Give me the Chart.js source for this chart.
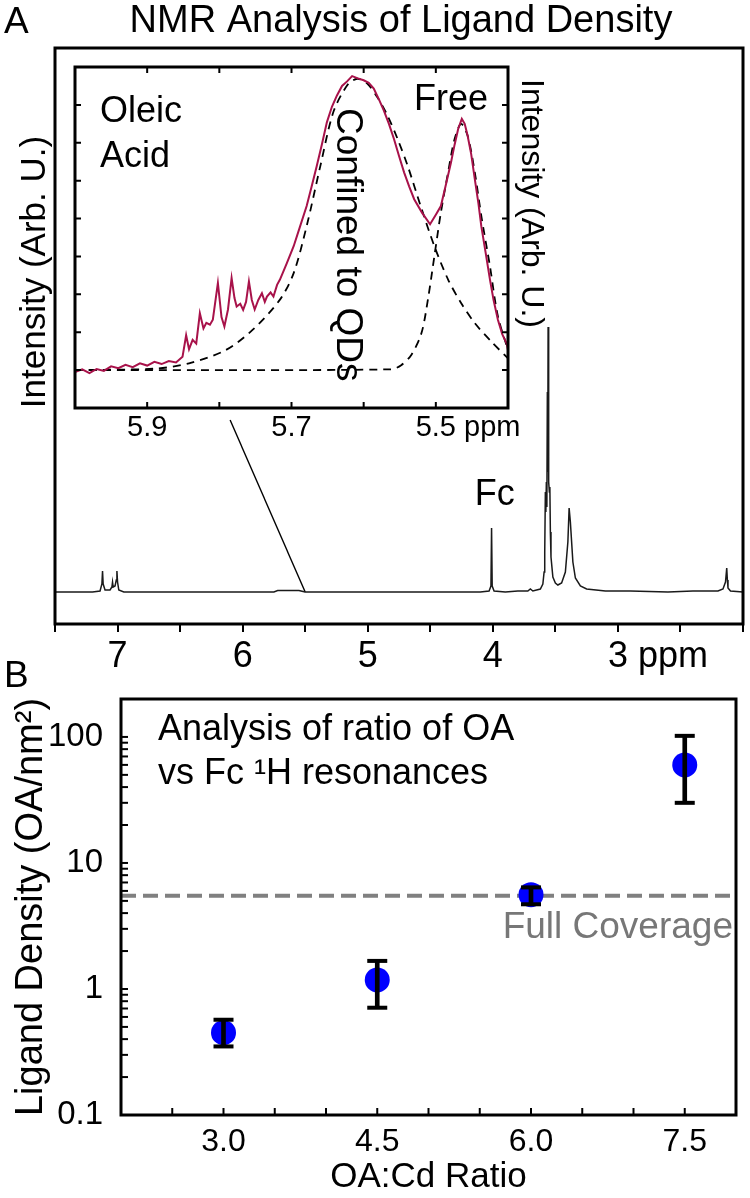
<!DOCTYPE html>
<html lang="en">
<head>
<meta charset="UTF-8">
<meta name="viewport" content="width=device-width, initial-scale=1.0">
<title>NMR Analysis of Ligand Density</title>
<style>
    body { margin: 0; background: #fff; }
    .page { position: relative; width: 750px; height: 1198px; overflow: hidden; }
    canvas { position: absolute; left: 0; }
    #mainChart { top: 0; }
    #densityChart { top: 640px; }
    #insetChart { top: 0; }
</style>
</head>
<body>
<div class="page">
    <canvas id="mainChart" width="750" height="690"></canvas>
    <canvas id="densityChart" width="750" height="558"></canvas>
    <canvas id="insetChart" width="560" height="450"></canvas>
</div>

<script src="https://cdn.jsdelivr.net/npm/chart.js"></script>
<script>
    // ---- Panel A: full 1H spectrum (ppm, intensity above baseline, arb. units)
    const specPpm = [7.50, 7.20, 7.14, 7.125, 7.12, 7.115, 7.10, 7.06, 7.045, 7.04, 7.035, 7.02, 7.01, 7.005, 7.00, 6.99, 6.95,
        5.75, 5.72, 5.55, 5.50, 4.10, 4.03, 4.015, 4.01, 4.005, 3.99, 3.90, 3.80, 3.72, 3.70, 3.68, 3.62, 3.60, 3.59,
        3.585, 3.58, 3.576, 3.572, 3.568, 3.564, 3.561, 3.558, 3.555, 3.552, 3.548, 3.544, 3.54, 3.535, 3.52, 3.50,
        3.48, 3.45, 3.42, 3.40, 3.39, 3.38, 3.36, 3.34, 3.30, 3.25, 3.10, 2.90, 2.60, 2.40, 2.20, 2.16, 2.14, 2.13,
        2.125, 2.12, 2.10, 2.00];
    const specInt = [0, 0, 1, 8, 21, 8, 2, 2, 5, 10, 5, 6, 12, 21, 10, 2, 0,
        0, 1.5, 1.5, 0, 0, 1, 6, 64, 6, 1, 0, 1, 1, 3, 1, 3, 8, 20,
        40, 100, 80, 110, 85, 200, 120, 265, 190, 110, 100, 105, 60, 35, 15, 9,
        7, 9, 20, 50, 84, 70, 30, 14, 6, 3, 1, 1, 0, 1, 1, 3, 10, 24,
        12, 4, 1, 0];
    // line joining the inset to the olefin region
    const zoomLinePpm = [6.10, 5.50];
    const zoomLineInt = [172, 0];

    // ---- Inset: olefinic region of oleic acid
    const redPpm = [6.000, 5.990, 5.980, 5.970, 5.960, 5.950, 5.940, 5.930, 5.920, 5.910, 5.900, 5.890, 5.880, 5.870,
        5.860, 5.851, 5.846, 5.842, 5.837, 5.832, 5.827, 5.822, 5.818, 5.813, 5.809, 5.802, 5.797, 5.793, 5.788,
        5.783, 5.779, 5.776, 5.771, 5.767, 5.763, 5.759, 5.755, 5.751, 5.746, 5.741, 5.737, 5.734, 5.729, 5.725,
        5.720, 5.716, 5.707, 5.697, 5.688, 5.679, 5.672, 5.665, 5.658, 5.651, 5.644, 5.637, 5.630, 5.623, 5.616,
        5.608, 5.600, 5.593, 5.586, 5.579, 5.572, 5.565, 5.558, 5.551, 5.544, 5.537, 5.530, 5.519, 5.508, 5.500,
        5.493, 5.486, 5.479, 5.474, 5.469, 5.464, 5.460, 5.456, 5.451, 5.446, 5.441, 5.437, 5.431, 5.425, 5.420,
        5.414, 5.408, 5.402, 5.400];
    const redInt = [-0.05, 0.02, -0.08, 0.03, -0.02, 0.10, 0.05, 0.14, 0.08, 0.18, 0.12, 0.22, 0.16, 0.24,
        0.20, 0.35, 0.92, 0.55, 0.80, 0.70, 1.50, 1.10, 1.25, 1.20, 1.33, 2.30, 1.40, 1.15, 1.60,
        2.43, 1.90, 1.68, 1.75, 1.59, 1.80, 2.34, 1.85, 1.60, 1.85, 2.03, 1.80, 1.94, 2.05, 1.94,
        2.25, 2.39, 2.80, 3.27, 3.80, 4.33, 4.85, 5.39, 5.95, 6.54, 6.95, 7.25, 7.50, 7.62, 7.76,
        7.70, 7.65, 7.58, 7.43, 7.15, 6.85, 6.50, 6.10, 5.65, 5.22, 4.85, 4.51, 4.15, 3.85, 4.10,
        4.33, 4.90, 5.48, 5.95, 6.37, 6.63, 6.50, 6.19, 5.70, 5.04, 4.40, 3.80, 3.10, 2.39, 1.85,
        1.33, 0.95, 0.71, 0.53];
    const confPpm = [6.000, 5.888, 5.842, 5.791, 5.754, 5.716, 5.697, 5.679, 5.660, 5.642, 5.623, 5.609,
        5.595, 5.581, 5.567, 5.553, 5.539, 5.521, 5.502, 5.483, 5.465, 5.446, 5.423, 5.400];
    const confInt = [0.00, 0.04, 0.18, 0.53, 1.06, 1.86, 2.56, 3.80, 5.39, 6.81, 7.51, 7.69,
        7.56, 7.20, 6.72, 6.10, 5.39, 4.33, 3.27, 2.39, 1.77, 1.24, 0.75, 0.31];
    const freePpm = [6.000, 5.562, 5.548, 5.534, 5.520, 5.511, 5.502, 5.493, 5.483, 5.474, 5.465, 5.456,
        5.446, 5.437, 5.425, 5.414, 5.400];
    const freeInt = [0.00, 0.02, 0.13, 0.40, 0.97, 1.86, 3.01, 4.16, 5.22, 6.10, 6.50, 6.19,
        5.22, 4.07, 2.74, 1.42, 0.53];

    // ---- Panel B: ligand density vs OA:Cd ratio
    const ratio = [3.0, 4.5, 6.0, 7.5];
    const density = [0.45, 1.18, 5.6, 60];
    const errLow = [0.35, 0.71, 4.7, 30];
    const errHigh = [0.57, 1.67, 6.4, 102];
    const fullCoverage = 5.5;
    const ratioLabels = [3.0, 4.5, 6.0, 7.5];

    const FONT = "'Liberation Sans', Arial, Helvetica, sans-serif";
    Chart.defaults.font.family = FONT;
    Chart.defaults.color = '#000';

    function pts(xs, ys) {
        return xs.map((x, i) => ({ x: x, y: ys[i] }));
    }

    // box round the plot area, with optional tick marks pointing inwards
    function makeFrame(cfg) {
        return {
            id: 'frame',
            beforeDatasetsDraw(chart) {
                if (!cfg.fill) return;
                const a = chart.chartArea, ctx = chart.ctx;
                ctx.save();
                ctx.fillStyle = cfg.fill;
                ctx.fillRect(a.left, a.top, a.right - a.left, a.bottom - a.top);
                ctx.restore();
            },
            afterDatasetsDraw(chart) {
                const a = chart.chartArea, ctx = chart.ctx;
                ctx.save();
                ctx.strokeStyle = '#000';
                ctx.lineWidth = 2;
                (cfg.ticks || []).forEach(t => {
                    const sc = chart.scales[t.axis];
                    sc.ticks.forEach(tk => {
                        if (t.keep && !t.keep(tk.value)) return;
                        const p = sc.getPixelForValue(tk.value);
                        ctx.beginPath();
                        t.sides.forEach(side => {
                            if (side === 'bottom') { ctx.moveTo(p, a.bottom); ctx.lineTo(p, a.bottom - t.len); }
                            if (side === 'top') { ctx.moveTo(p, a.top); ctx.lineTo(p, a.top + t.len); }
                            if (side === 'left') { ctx.moveTo(a.left, p); ctx.lineTo(a.left + t.len, p); }
                            if (side === 'right') { ctx.moveTo(a.right, p); ctx.lineTo(a.right - t.len, p); }
                        });
                        ctx.stroke();
                    });
                });
                ctx.lineWidth = cfg.width || 3;
                ctx.strokeRect(a.left, a.top, a.right - a.left, a.bottom - a.top);
                ctx.restore();
            }
        };
    }

    function makeText(draw) {
        return {
            id: 'labels',
            afterDraw(chart) {
                const ctx = chart.ctx;
                ctx.save();
                ctx.fillStyle = '#000';
                ctx.textBaseline = 'alphabetic';
                draw(ctx, chart);
                ctx.restore();
            }
        };
    }

    // " ppm" written after a tick label, the number itself stays centred on its tick
    function ppmSuffix(ctx, scale, value, label, size, tickLen, pad) {
        ctx.font = size + 'px ' + FONT;
        ctx.textAlign = 'left';
        ctx.textBaseline = 'middle';
        const x = scale.getPixelForValue(value) + ctx.measureText(label).width / 2;
        ctx.fillText(' ppm', x, scale.top + tickLen + pad + size * 0.6);
    }

    const baseOptions = {
        responsive: false,
        animation: false,
        events: [],
        plugins: { legend: { display: false }, tooltip: { enabled: false } }
    };

    // ---------- main spectrum
    new Chart(document.getElementById('mainChart'), {
        type: 'scatter',
        data: {
            datasets: [
                { data: pts(specPpm, specInt), showLine: true, borderColor: '#1a1a1a', borderWidth: 1.5, pointRadius: 0 },
                { data: pts(zoomLinePpm, zoomLineInt), showLine: true, borderColor: '#000', borderWidth: 1.4, pointRadius: 0 }
            ]
        },
        options: {
            ...baseOptions,
            layout: { padding: { left: 55, top: 48, right: 7, bottom: 0 } },
            scales: {
                x: {
                    type: 'linear', min: 2, max: 7.5, reverse: true,
                    border: { display: false },
                    grid: { drawOnChartArea: false, drawTicks: true, tickLength: 8, color: '#000', lineWidth: 2 },
                    ticks: {
                        stepSize: 0.5, autoSkip: false, maxRotation: 0, padding: 3, font: { size: 36 }, color: '#000',
                        callback: v => (Number.isInteger(v) && v >= 3 && v <= 7) ? String(v) : ''
                    },
                    afterFit: s => { s.height = 66; }
                },
                y: { display: false, min: -32, max: 544 }
            }
        },
        plugins: [
            makeFrame({ width: 3 }),
            makeText((ctx, chart) => {
                const sx = chart.scales.x, sy = chart.scales.y;
                ctx.font = '37px ' + FONT;
                ctx.textAlign = 'left';
                ctx.fillText('A', 4, 33);
                ctx.font = '38px ' + FONT;
                ctx.textAlign = 'center';
                ctx.fillText('NMR Analysis of Ligand Density', 401, 32);

                ctx.save();
                ctx.translate(45, 272);
                ctx.rotate(-Math.PI / 2);
                ctx.font = '35px ' + FONT;
                ctx.fillText('Intensity (Arb. U.)', 0, 0);
                ctx.restore();

                ctx.font = '36px ' + FONT;
                ctx.textAlign = 'center';
                ctx.fillText('Fc', sx.getPixelForValue(4.0) + 2, sy.getPixelForValue(87));

                ppmSuffix(ctx, sx, 3, '3', 36, 8, 3);
            })
        ]
    });

    // ---------- panel B
    new Chart(document.getElementById('densityChart'), {
        type: 'scatter',
        data: {
            datasets: [
                {
                    data: [{ x: 2, y: fullCoverage }, { x: 8, y: fullCoverage }], showLine: true,
                    borderColor: '#808080', borderWidth: 4, borderDash: [15, 7], pointRadius: 0, order: 4
                },
                {
                    data: pts(ratio, density), pointRadius: 12.5, pointBackgroundColor: '#0000ff',
                    backgroundColor: '#0000ff', pointBorderWidth: 0, borderWidth: 0, order: 3
                },
                {
                    type: 'bar', data: ratio.map((x, i) => ({ x: x, y: [errLow[i], errHigh[i]] })),
                    backgroundColor: '#000', barThickness: 4, order: 2
                },
                {
                    data: pts(ratio, errLow).concat(pts(ratio, errHigh)), pointStyle: 'line', pointRadius: 10,
                    borderColor: '#000', pointBorderColor: '#000', borderWidth: 4, pointBorderWidth: 4, order: 1
                }
            ]
        },
        options: {
            ...baseOptions,
            layout: { padding: { left: 0, top: 59, right: 7, bottom: 0 } },
            scales: {
                x: {
                    type: 'linear', min: 2, max: 8, offset: false,
                    border: { display: false },
                    grid: { display: false, drawTicks: false },
                    ticks: {
                        stepSize: 0.5, autoSkip: false, maxRotation: 0, padding: 8, font: { size: 32 }, color: '#000',
                        callback: v => ratioLabels.includes(v) ? v.toFixed(1) : ''
                    },
                    title: { display: true, text: 'OA:Cd Ratio', font: { size: 35 }, color: '#000', padding: { top: 0, bottom: 0 } },
                    afterFit: s => { s.height = 83; }
                },
                y: {
                    type: 'logarithmic', min: 0.1, max: 200,
                    border: { display: false },
                    grid: { display: false, drawTicks: false },
                    ticks: {
                        autoSkip: false, padding: 18, font: { size: 33 }, color: '#000',
                        callback: v => {
                            const e = Math.log10(v);
                            return Math.abs(e - Math.round(e)) < 1e-9 ? String(Math.pow(10, Math.round(e))) : '';
                        }
                    },
                    title: { display: true, text: 'Ligand Density (OA/nm²)', font: { size: 38 }, color: '#000', padding: { top: 9, bottom: 0 } },
                    afterFit: s => { s.width = 121; }
                }
            }
        },
        plugins: [
            makeFrame({
                width: 3,
                ticks: [
                    { axis: 'x', sides: ['bottom'], len: 7 },
                    {
                        axis: 'y', sides: ['left'], len: 7,
                        keep: v => {
                            const m = v / Math.pow(10, Math.floor(Math.log10(v) + 1e-9));
                            return Math.abs(m - Math.round(m)) < 1e-6;
                        }
                    }
                ]
            }),
            makeText(ctx => {
                ctx.font = '37px ' + FONT;
                ctx.textAlign = 'left';
                ctx.fillText('B', 4, 47);
                ctx.font = '36px ' + FONT;
                ctx.fillText('Analysis of ratio of OA', 158, 100);
                ctx.fillText('vs Fc ¹H resonances', 158, 144);
                ctx.font = '37px ' + FONT;
                ctx.fillStyle = '#777';
                ctx.textAlign = 'right';
                ctx.fillText('Full Coverage', 733, 298);
            })
        ]
    });

    // ---------- inset
    new Chart(document.getElementById('insetChart'), {
        type: 'scatter',
        data: {
            datasets: [
                { data: pts(redPpm, redInt), showLine: true, borderColor: '#a8124a', borderWidth: 2, pointRadius: 0, order: 0 },
                {
                    data: pts(confPpm, confInt), showLine: true, borderColor: '#000', borderWidth: 1.8,
                    borderDash: [8, 6], tension: 0.3, pointRadius: 0, order: 1
                },
                {
                    data: pts(freePpm, freeInt), showLine: true, borderColor: '#000', borderWidth: 1.8,
                    borderDash: [8, 6], tension: 0.3, pointRadius: 0, order: 1
                }
            ]
        },
        options: {
            ...baseOptions,
            layout: { padding: { left: 75, top: 67, right: 52, bottom: 0 } },
            scales: {
                x: {
                    type: 'linear', min: 5.4, max: 6.0, reverse: true,
                    border: { display: false },
                    grid: { display: false, drawTicks: false },
                    ticks: {
                        stepSize: 0.1, autoSkip: false, maxRotation: 0, padding: 3, font: { size: 29 }, color: '#000',
                        callback: v => {
                            const r = Math.round(v * 10) / 10;
                            return [5.9, 5.7, 5.5].includes(r) ? r.toFixed(1) : '';
                        }
                    },
                    afterFit: s => { s.height = 42; }
                },
                y: {
                    min: -1, max: 8,
                    border: { display: false },
                    grid: { display: false, drawTicks: false },
                    ticks: { stepSize: 1, display: false },
                    afterFit: s => { s.width = 0; }
                }
            }
        },
        plugins: [
            makeFrame({
                width: 3, fill: '#fff',
                ticks: [
                    { axis: 'x', sides: ['top', 'bottom'], len: 6 },
                    { axis: 'y', sides: ['left', 'right'], len: 6 }
                ]
            }),
            makeText((ctx, chart) => {
                ctx.font = '36px ' + FONT;
                ctx.textAlign = 'left';
                ctx.fillText('Oleic', 100, 122);
                ctx.fillText('Acid', 100, 167);
                ctx.fillText('Free', 414, 110);

                ctx.save();
                ctx.translate(337, 108);
                ctx.rotate(Math.PI / 2);
                ctx.font = '37px ' + FONT;
                ctx.fillText('Confined to QDs', 0, 0);
                ctx.restore();

                ctx.save();
                ctx.translate(522, 79);
                ctx.rotate(Math.PI / 2);
                ctx.font = '32px ' + FONT;
                ctx.fillText('Intensity (Arb. U.)', 0, 0);
                ctx.restore();

                ppmSuffix(ctx, chart.scales.x, 5.5, '5.5', 29, 0, 3);
            })
        ]
    });
</script>
</body>
</html>
